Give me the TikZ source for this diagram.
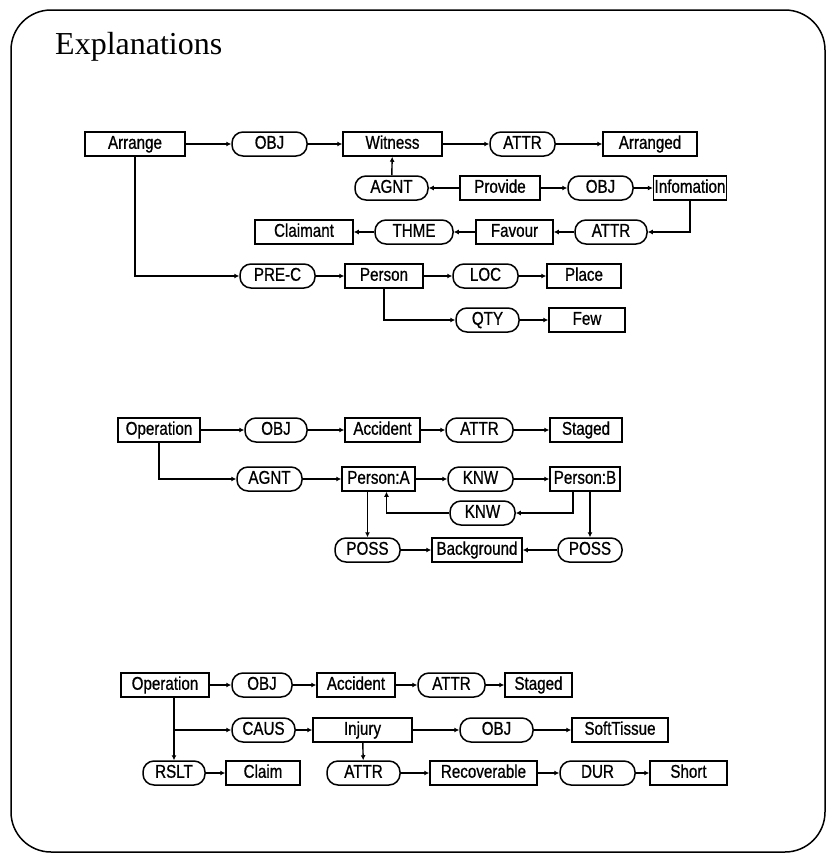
\documentclass[tikz,border=0pt]{standalone}
\usepackage{fontspec}
\setmainfont{Liberation Serif}
\newfontfamily\cgfont[FakeStretch=0.82,FakeBold=0.8]{Liberation Sans}
\usetikzlibrary{arrows.meta}

\tikzset{
  concept/.style={draw, line width=1.5pt, minimum height=24pt, inner sep=2pt,
                  text height=13pt, text depth=3.5pt,
                  font=\cgfont\fontsize{18.5}{18.5}\selectfont},
  relation/.style={concept, rounded corners=11pt},
  link/.style={line width=1.4pt, -{Latex[length=5pt,width=5pt]}},
}

\begin{document}
\begin{tikzpicture}[x=1pt,y=-1pt]
\useasboundingbox (0,0) rectangle (827,855);

% frame and heading
\draw[line width=1.5pt, rounded corners=40pt] (11,10) rectangle (825,852);
\node[anchor=base west, inner sep=0pt, font=\fontsize{32}{32}\selectfont]
  (title) at (55,54) {Explanations};

% first graph: arranged witness
\node[concept, minimum width=100pt] (arrange)  at (135,144)   {Arrange};
\node[relation, minimum width=75pt] (obj1)     at (269.5,144) {OBJ};
\node[concept, minimum width=99pt]  (witness)  at (392.5,144) {Witness};
\node[relation, minimum width=65pt] (attr1)    at (522.5,144) {ATTR};
\node[concept, minimum width=94pt]  (arranged) at (650,144)   {Arranged};

\node[relation, minimum width=73pt] (agnt1)    at (391.5,188) {AGNT};
\node[concept, minimum width=80pt]  (provide)  at (500,188)   {Provide};
\node[relation, minimum width=65pt] (obj2)     at (600.5,188) {OBJ};
\node[concept, inner xsep=1pt]      (info)     at (690,188)   {Infomation};

\node[concept, minimum width=98pt]  (claimant) at (304,232)   {Claimant};
\node[relation, minimum width=78pt] (thme)     at (414,232)   {THME};
\node[concept, minimum width=77pt]  (favour)   at (514.5,232) {Favour};
\node[relation, minimum width=72pt] (attr2)    at (611,232)   {ATTR};

\node[relation, minimum width=75pt] (prec)     at (277.5,276) {PRE-C};
\node[concept, minimum width=78pt]  (person)   at (384,276)   {Person};
\node[relation, minimum width=65pt] (loc)      at (485.5,276) {LOC};
\node[concept, minimum width=74pt]  (place)    at (584,276)   {Place};
\node[relation, minimum width=63pt] (qty)      at (487.5,320) {QTY};
\node[concept, minimum width=76pt]  (few)      at (587,320)   {Few};

\draw[link] (arrange) -- (obj1);
\draw[link] (obj1) -- (witness);
\draw[link] (witness) -- (attr1);
\draw[link] (attr1) -- (arranged);
\draw[link] (agnt1) -- (witness);
\draw[link] (provide) -- (agnt1);
\draw[link] (provide) -- (obj2);
\draw[link] (obj2) -- (info);
\draw[link] (info.south) |- (attr2);
\draw[link] (attr2) -- (favour);
\draw[link] (favour) -- (thme);
\draw[link] (thme) -- (claimant);
\draw[link] (arrange.south) |- (prec);
\draw[link] (prec) -- (person);
\draw[link] (person) -- (loc);
\draw[link] (loc) -- (place);
\draw[link] (person.south) |- (qty);
\draw[link] (qty) -- (few);

% second graph: staged accident, persons who know each other
\node[concept, minimum width=82pt]  (op2)      at (159,430)   {Operation};
\node[relation, minimum width=62pt] (obj3)     at (276,430)   {OBJ};
\node[concept, minimum width=75pt]  (accident) at (382.5,430) {Accident};
\node[relation, minimum width=67pt] (attr3)    at (479.5,430) {ATTR};
\node[concept, minimum width=72pt]  (staged)   at (586,430)   {Staged};

\node[relation, minimum width=65pt] (agnt2)    at (269.5,479) {AGNT};
\node[concept, minimum width=73pt]  (pa)       at (378.5,479) {Person:A};
\node[relation, minimum width=65pt] (knw1)     at (480.5,479) {KNW};
\node[concept, minimum width=70pt]  (pb)       at (585,479)   {Person:B};
\node[relation, minimum width=65pt] (knw2)     at (482.5,513) {KNW};

\node[relation, minimum width=65pt] (poss1)    at (367.5,550) {POSS};
\node[concept, minimum width=90pt]  (bg)       at (477,550)   {Background};
\node[relation, minimum width=64pt] (poss2)    at (590,550)   {POSS};

\draw[link] (op2) -- (obj3);
\draw[link] (obj3) -- (accident);
\draw[link] (accident) -- (attr3);
\draw[link] (attr3) -- (staged);
\draw[link] (op2.south) |- (agnt2);
\draw[link] (agnt2) -- (pa);
\draw[link] (pa) -- (knw1);
\draw[link] (knw1) -- (pb);
\draw[link] ([xshift=-12pt]pb.south) |- (knw2.east);
\draw[link] (knw2.west) -| ([xshift=8pt]pa.south);
\draw[link] (pa.south -| poss1) -- (poss1);
\draw[link] (pb.south -| poss2) -- (poss2);
\draw[link] (poss1) -- (bg);
\draw[link] (poss2) -- (bg);

% third graph: injury caused by the staged accident
\node[concept, minimum width=88pt]  (op3)       at (165,685)   {Operation};
\node[relation, minimum width=60pt] (obj4)      at (262,685)   {OBJ};
\node[concept, minimum width=78pt]  (accident2) at (356,685)   {Accident};
\node[relation, minimum width=67pt] (attr4)     at (451.5,685) {ATTR};
\node[concept, minimum width=67pt]  (staged2)   at (538.5,685) {Staged};

\node[relation, minimum width=63pt] (caus)      at (263.5,730) {CAUS};
\node[concept, minimum width=99pt]  (injury)    at (362.5,730) {Injury};
\node[relation, minimum width=73pt] (obj5)      at (496.5,730) {OBJ};
\node[concept, minimum width=96pt]  (soft)      at (620,730)   {SoftTissue};

\node[relation, minimum width=62pt] (rslt)      at (174,773)   {RSLT};
\node[concept, minimum width=74pt]  (claim)     at (263,773)   {Claim};
\node[relation, minimum width=73pt] (attr5)     at (363.5,773) {ATTR};
\node[concept, minimum width=107pt] (recov)     at (483.5,773) {Recoverable};
\node[relation, minimum width=75pt] (dur)       at (597.5,773) {DUR};
\node[concept, minimum width=77pt]  (short)     at (688.5,773) {Short};

\draw[link] (op3) -- (obj4);
\draw[link] (obj4) -- (accident2);
\draw[link] (accident2) -- (attr4);
\draw[link] (attr4) -- (staged2);
\draw[link] (op3.south -| rslt) -- (rslt);
\draw[link] (op3.south -| rslt) |- (caus);
\draw[link] (caus) -- (injury);
\draw[link] (injury) -- (obj5);
\draw[link] (obj5) -- (soft);
\draw[link] (injury) -- (attr5);
\draw[link] (rslt) -- (claim);
\draw[link] (attr5) -- (recov);
\draw[link] (recov) -- (dur);
\draw[link] (dur) -- (short);

\end{tikzpicture}
\end{document}
